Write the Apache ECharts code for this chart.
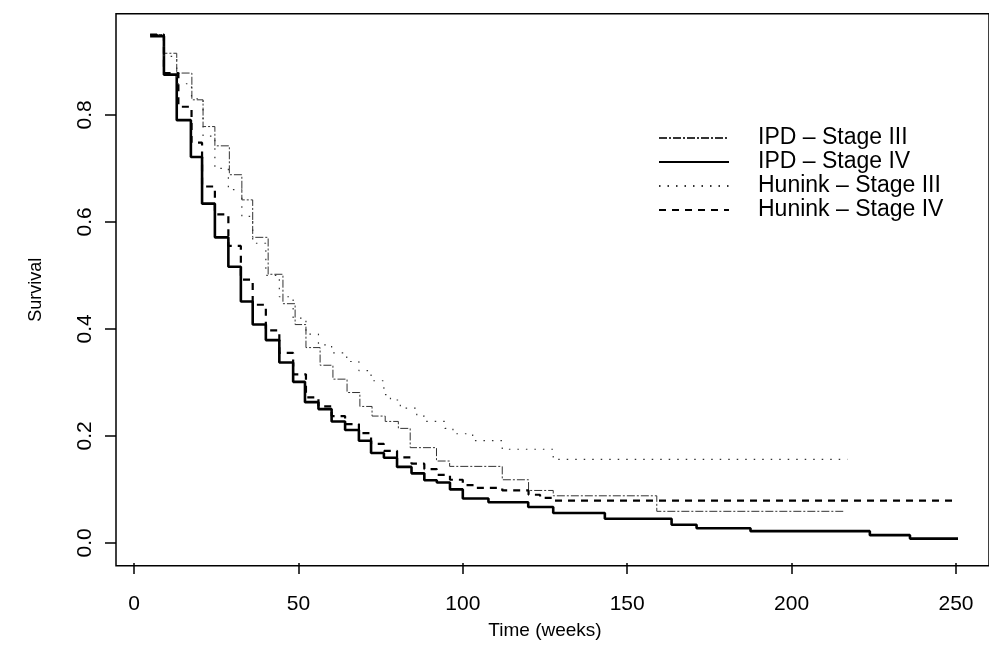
<!DOCTYPE html>
<html>
<head>
<meta charset="utf-8">
<script src="https://cdn.jsdelivr.net/npm/echarts/dist/echarts.min.js"></script>
<style>
html,body{margin:0;padding:0;background:#fff;}
#c{width:989px;height:645px;}
</style>
</head>
<body>
<div id="c"></div>
<script>
// ---- data (weeks, survival) ----
const seriesNames = ['IPD \u2013 Stage III', 'IPD \u2013 Stage IV', 'Hunink \u2013 Stage III', 'Hunink \u2013 Stage IV'];

const ipd3Weeks = [4.9, 9.1, 13.0, 17.6, 21.0, 24.6, 29.0, 32.8, 36.1, 40.8, 45.3, 49.0, 52.3, 56.6, 60.5, 64.8, 68.7, 72.4, 76.4, 80.4, 84.0, 92.0, 96.0, 112.0, 120.0, 127.5, 159.0, 215.7];
const ipd3Surv  = [0.950, 0.915, 0.878, 0.828, 0.778, 0.742, 0.688, 0.641, 0.571, 0.502, 0.447, 0.408, 0.365, 0.332, 0.306, 0.281, 0.255, 0.237, 0.227, 0.214, 0.178, 0.153, 0.143, 0.118, 0.098, 0.088, 0.059, 0.059];

const ipd4Weeks = [4.9, 9.1, 13.0, 17.3, 20.7, 24.6, 28.7, 32.5, 36.1, 40.1, 44.2, 48.4, 52.0, 56.1, 60.1, 64.2, 68.4, 72.1, 76.0, 80.0, 84.4, 88.3, 92.1, 96.1, 100.0, 107.8, 119.9, 127.5, 143.2, 163.5, 171.1, 187.5, 223.8, 236.0, 252.0];
const ipd4Surv  = [0.947, 0.875, 0.790, 0.721, 0.634, 0.571, 0.516, 0.451, 0.408, 0.379, 0.337, 0.301, 0.263, 0.250, 0.227, 0.211, 0.191, 0.168, 0.159, 0.142, 0.130, 0.117, 0.113, 0.100, 0.083, 0.076, 0.067, 0.056, 0.045, 0.034, 0.0275, 0.022, 0.0145, 0.008, 0.001];

const hun3Weeks = [4.9, 9.1, 13.0, 17.5, 21.0, 24.6, 28.7, 32.8, 36.1, 40.1, 44.2, 48.4, 52.3, 56.1, 60.1, 64.7, 68.4, 72.1, 76.0, 78.0, 81.0, 86.0, 88.3, 94.6, 97.0, 103.0, 112.0, 127.5, 217.0];
const hun3Surv  = [0.950, 0.909, 0.858, 0.830, 0.760, 0.700, 0.660, 0.610, 0.560, 0.500, 0.460, 0.420, 0.390, 0.370, 0.355, 0.339, 0.322, 0.303, 0.277, 0.267, 0.252, 0.237, 0.227, 0.214, 0.204, 0.191, 0.175, 0.156, 0.156];

const hun4Weeks = [4.9, 9.1, 13.5, 17.5, 20.7, 24.6, 28.7, 32.5, 36.1, 40.1, 44.2, 48.4, 52.3, 56.1, 60.1, 64.2, 68.4, 72.1, 76.0, 80.0, 84.4, 88.3, 92.1, 96.1, 100.0, 104.0, 112.0, 120.0, 123.5, 127.5, 252.8];
const hun4Surv  = [0.950, 0.878, 0.815, 0.748, 0.666, 0.614, 0.555, 0.492, 0.445, 0.397, 0.355, 0.315, 0.272, 0.255, 0.237, 0.222, 0.205, 0.185, 0.172, 0.160, 0.148, 0.138, 0.127, 0.118, 0.108, 0.103, 0.098, 0.090, 0.084, 0.079, 0.079];

const xTicks = [0, 50, 100, 150, 200, 250];
const yTicks = [0.0, 0.2, 0.4, 0.6, 0.8];

function pairs(t, s) { return t.map((v, i) => [v, s[i]]); }

const FONT = "'Liberation Sans', Arial, Helvetica, sans-serif";
const chart = echarts.init(document.getElementById('c'), null, {renderer: 'canvas'});

const option = {
  animation: false,
  backgroundColor: '#ffffff',
  grid: [
    {left: 134, right: 33, top: 114.8, bottom: 99.4, containLabel: false},
    {left: 116, top: 13.7, width: 880, height: 552, show: true, borderColor: '#000', borderWidth: 1.5, backgroundColor: 'transparent'}
  ],
  xAxis: [
    {
      gridIndex: 0, type: 'value', min: xTicks[0], max: xTicks[xTicks.length - 1], interval: 50,
      offset: 20.1,
      axisLine: {show: false, onZero: false},
      axisTick: {show: true, length: 11, lineStyle: {color: '#000', width: 1.5}},
      axisLabel: {color: '#000', fontSize: 21, fontFamily: FONT, margin: 31, formatter: v => String(v)},
      splitLine: {show: false},
      name: 'Time (weeks)', nameLocation: 'middle', nameGap: 58,
      nameTextStyle: {color: '#000', fontSize: 19, fontFamily: FONT}
    },
    {gridIndex: 1, type: 'value', show: false, min: 0, max: 1}
  ],
  yAxis: [
    {
      gridIndex: 0, type: 'value', min: yTicks[0], max: yTicks[yTicks.length - 1], interval: 0.2,
      offset: 18,
      axisLine: {show: false, onZero: false},
      axisTick: {show: true, length: 11, lineStyle: {color: '#000', width: 1.5}},
      axisLabel: {color: '#000', fontSize: 21, fontFamily: FONT, margin: 20, rotate: 90, formatter: v => v.toFixed(1)},
      splitLine: {show: false}
    },
    {
      gridIndex: 1, type: 'value', min: 0, max: 1,
      axisLine: {show: false}, axisTick: {show: false}, axisLabel: {show: false}, splitLine: {show: false},
      name: 'Survival', nameLocation: 'middle', nameGap: 71,
      nameTextStyle: {color: '#000', fontSize: 18, fontFamily: FONT}
    }
  ],
  legend: {
    orient: 'vertical', left: 658, top: 126, padding: 0,
    itemWidth: 70, itemHeight: 14, itemGap: 0,
    data: seriesNames,
    itemStyle: {opacity: 0, color: 'rgba(0,0,0,0)', borderWidth: 0},
    textStyle: {color: '#000', fontSize: 23, fontFamily: FONT, lineHeight: 24, padding: [0, 0, 0, 24]}
  },
  series: [
    {name: seriesNames[0], type: 'line', step: 'end', symbol: 'none', clip: false, xAxisIndex: 0, yAxisIndex: 0,
     data: pairs(ipd3Weeks, ipd3Surv), lineStyle: {color: '#333', width: 1, type: [8, 2, 2, 2]}, itemStyle: {color: '#333'}},
    {name: seriesNames[1], type: 'line', step: 'end', symbol: 'none', clip: false, xAxisIndex: 0, yAxisIndex: 0,
     data: pairs(ipd4Weeks, ipd4Surv), lineStyle: {color: '#000', width: 2.6, type: 'solid'}, itemStyle: {color: '#000'}},
    {name: seriesNames[2], type: 'line', step: 'end', symbol: 'none', clip: false, xAxisIndex: 0, yAxisIndex: 0,
     data: pairs(hun3Weeks, hun3Surv), lineStyle: {color: '#333', width: 1.2, type: [1.5, 7]}, itemStyle: {color: '#333'}},
    {name: seriesNames[3], type: 'line', step: 'end', symbol: 'none', clip: false, xAxisIndex: 0, yAxisIndex: 0,
     data: pairs(hun4Weeks, hun4Surv), lineStyle: {color: '#000', width: 2.2, type: [7, 6]}, itemStyle: {color: '#000'}}
  ]
};
chart.setOption(option);
</script>
</body>
</html>
